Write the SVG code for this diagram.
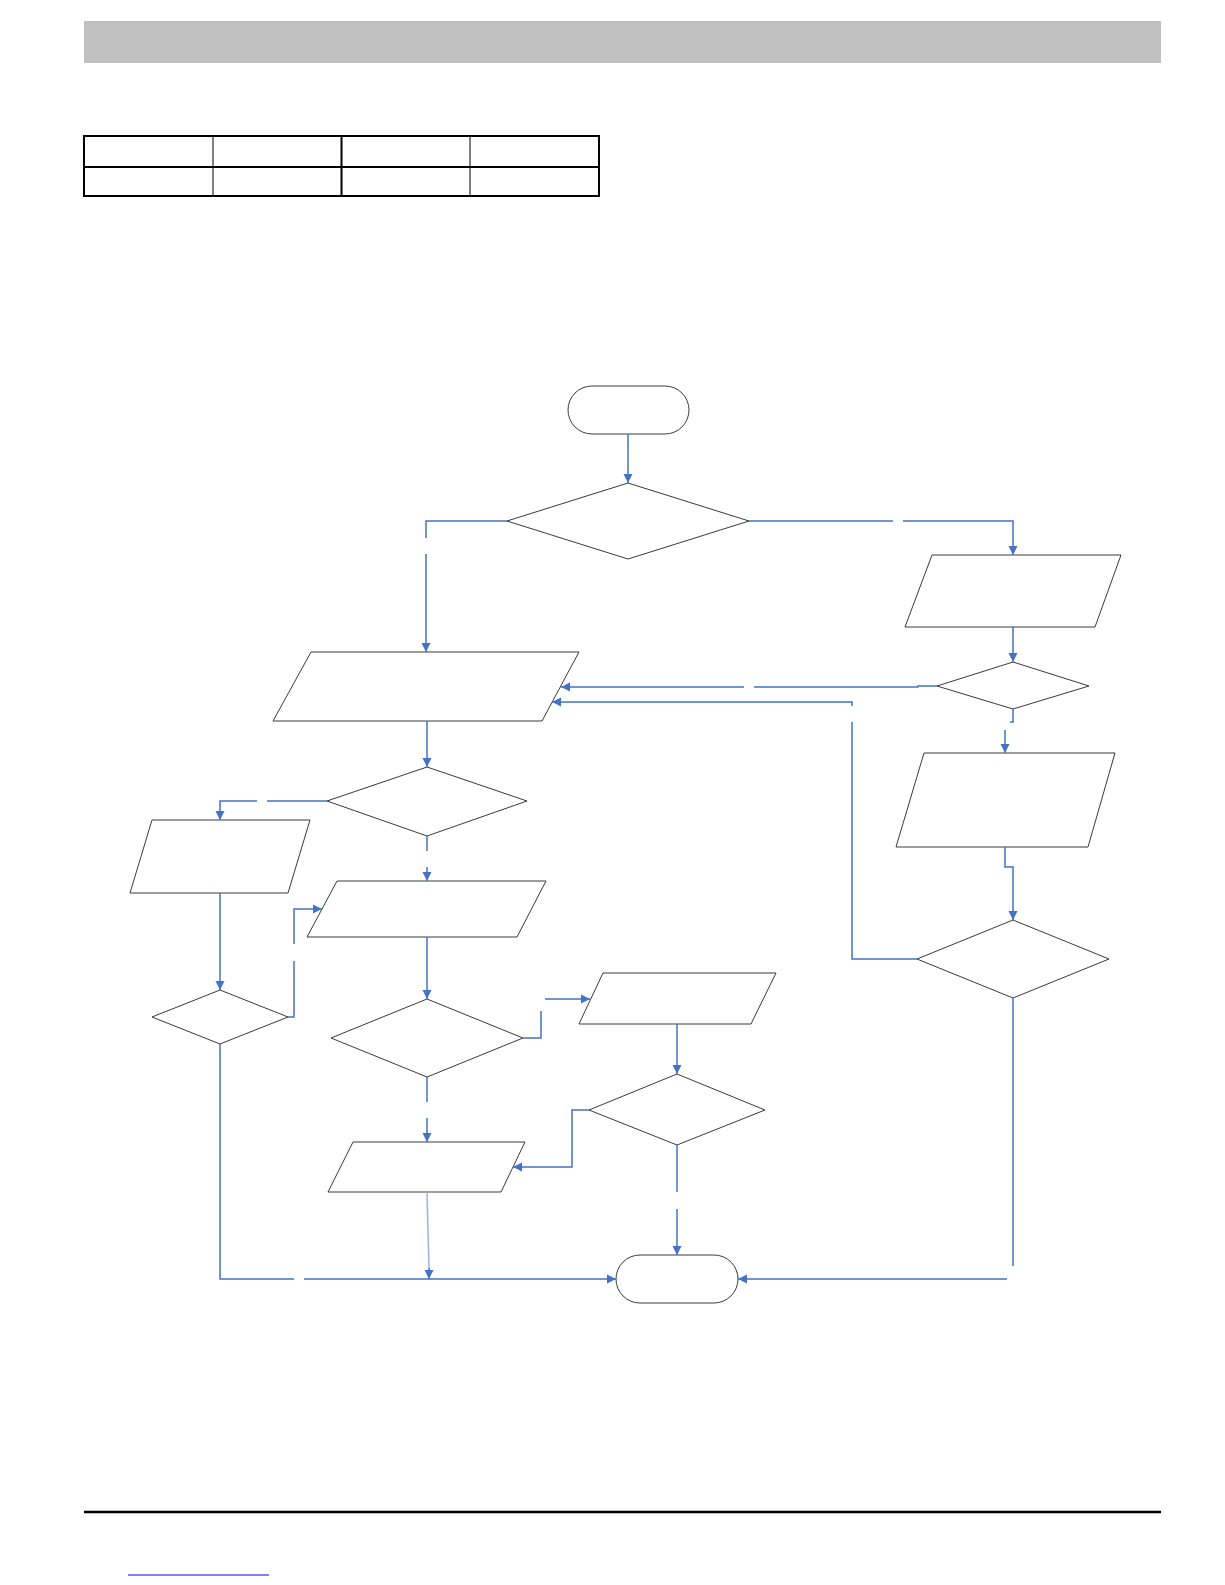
<svg xmlns="http://www.w3.org/2000/svg" width="1225" height="1585" viewBox="0 0 1225 1585">
<style>
.shape{fill:#fff;stroke:#3a3a3a;stroke-width:1}
.con{fill:none;stroke:#4472C4;stroke-width:1.5}
.faint{fill:none;stroke:#9DB4DE;stroke-width:1.5}
</style>
<defs>
<marker id="ah" viewBox="0 0 10 10" refX="10" refY="5" markerUnits="userSpaceOnUse" markerWidth="9" markerHeight="11" orient="auto">
<path d="M0,0 L10,5 L0,10 z" fill="#4472C4"/>
</marker>
</defs>
<rect x="84" y="21" width="1077" height="42" fill="#C0C0C0"/>
<g id="table" fill="none" stroke="#000">
<rect x="84" y="136" width="515" height="60" stroke-width="2"/>
<line x1="84" y1="167" x2="599" y2="167" stroke-width="2"/>
<line x1="213" y1="136" x2="213" y2="196" stroke-width="1"/>
<line x1="341.5" y1="136" x2="341.5" y2="196" stroke-width="2"/>
<line x1="470" y1="136" x2="470" y2="196" stroke-width="1"/>
</g>
<line x1="84" y1="1512" x2="1161" y2="1512" stroke="#000" stroke-width="2.5"/>
<line x1="128" y1="1575" x2="269" y2="1575" stroke="#0000FF" stroke-width="1.2"/>

<g id="start"><rect class="shape" x="568" y="386" width="121" height="48" rx="24"/></g>
<g id="d1"><polygon class="shape" points="628,483 749,521 628,559 507,521"/></g>
<g id="r1"><polygon class="shape" points="932,555 1121,555 1095,627 905,627"/></g>
<g id="r2"><polygon class="shape" points="1013,662 1089,686 1013,709 937,686"/></g>
<g id="r3"><polygon class="shape" points="924,753 1115,753 1088,847 896,847"/></g>
<g id="r4"><polygon class="shape" points="1013,920 1109,959 1013,998 917,959"/></g>
<g id="l1"><polygon class="shape" points="311,652 579,652 542,721 273,721"/></g>
<g id="l2"><polygon class="shape" points="427,767 527,801 427,836 327,801"/></g>
<g id="l3"><polygon class="shape" points="152,820 310,820 288,893 130,893"/></g>
<g id="l4"><polygon class="shape" points="220,990 288,1017 220,1044 152,1017"/></g>
<g id="l5"><polygon class="shape" points="337,881 546,881 517,937 307,937"/></g>
<g id="l6"><polygon class="shape" points="427,999 523,1038 427,1077 331,1038"/></g>
<g id="m1"><polygon class="shape" points="603,973 776,973 751,1024 579,1024"/></g>
<g id="m2"><polygon class="shape" points="677,1074 765,1110 677,1145 589,1110"/></g>
<g id="l7"><polygon class="shape" points="353,1142 525,1142 501,1192 328,1192"/></g>
<g id="end"><rect class="shape" x="616" y="1255" width="122" height="48" rx="24"/></g>

<g id="connectors">
<path class="con" d="M628,434 V483" marker-end="url(#ah)"/>
<path class="con" d="M507,521 H426 V538"/>
<path class="con" d="M426,554 V652" marker-end="url(#ah)"/>
<path class="con" d="M749,521 H893"/>
<path class="con" d="M903,521 H1013 V555" marker-end="url(#ah)"/>
<path class="con" d="M1013,627 V662" marker-end="url(#ah)"/>
<path class="con" d="M937,686 H918 V687 H754"/>
<path class="con" d="M744,687 H561" marker-end="url(#ah)"/>
<path class="con" d="M1013,709 V722 H1010"/>
<path class="con" d="M1005,730 V753" marker-end="url(#ah)"/>
<path class="con" d="M1005,847 V867 H1013 V920" marker-end="url(#ah)"/>
<path class="con" d="M917,959 H852 V722"/>
<path class="con" d="M852,706 V702 H552" marker-end="url(#ah)"/>
<path class="con" d="M1013,998 V1266"/>
<path class="con" d="M1007,1279 H738" marker-end="url(#ah)"/>
<path class="con" d="M427,721 V767" marker-end="url(#ah)"/>
<path class="con" d="M327,801 H267"/>
<path class="con" d="M257,801 H220 V820" marker-end="url(#ah)"/>
<path class="con" d="M427,836 V851"/>
<path class="con" d="M427,867 V881" marker-end="url(#ah)"/>
<path class="con" d="M220,893 V990" marker-end="url(#ah)"/>
<path class="con" d="M288,1017 H294 V961"/>
<path class="con" d="M294,944 V909 H322" marker-end="url(#ah)"/>
<path class="con" d="M220,1044 V1279 H294"/>
<path class="con" d="M304,1279 H616" marker-end="url(#ah)"/>
<path class="con" d="M427,937 V999" marker-end="url(#ah)"/>
<path class="con" d="M523,1038 H541 V1011"/>
<path class="con" d="M545,999 H590" marker-end="url(#ah)"/>
<path class="con" d="M427,1077 V1102"/>
<path class="con" d="M427,1118 V1142" marker-end="url(#ah)"/>
<path class="con" d="M677,1024 V1074" marker-end="url(#ah)"/>
<path class="con" d="M589,1110 H572 V1167 H513" marker-end="url(#ah)"/>
<path class="con" d="M677,1145 V1192"/>
<path class="con" d="M677,1209 V1255" marker-end="url(#ah)"/>
<path class="faint" d="M427,1192 L429,1270"/>
<path class="con" d="M429,1268 V1279" marker-end="url(#ah)"/>
</g>
</svg>
